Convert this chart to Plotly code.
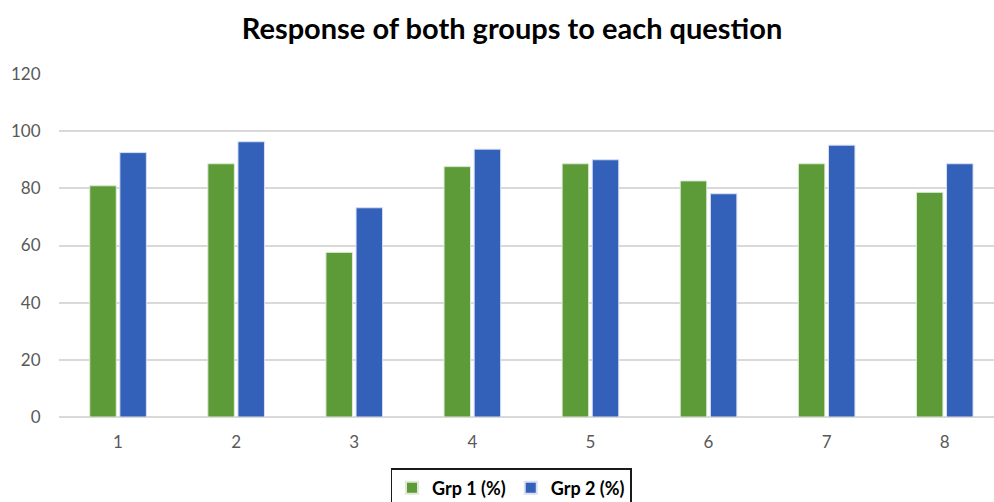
import plotly.graph_objects as go

# Survey results: percentage of each group answering each question
questions = ["1", "2", "3", "4", "5", "6", "7", "8"]
grp1_pct = [80.9, 88.6, 57.6, 87.6, 88.6, 82.6, 88.6, 78.6]
grp2_pct = [92.5, 96.3, 73.2, 93.7, 90.0, 78.1, 95.1, 88.6]
y_ticks = [0, 20, 40, 60, 80, 100, 120]

GREEN = "#5c9b37"
BLUE = "#3360b9"
FONT = "Lato, 'Open Sans', sans-serif"

x_pos = list(range(1, len(questions) + 1))

fig = go.Figure()
fig.add_trace(go.Bar(
    x=x_pos, y=grp1_pct, name="Grp 1 (%)",
    marker=dict(color=GREEN, line=dict(color="#dfe9d6", width=1)),
))
fig.add_trace(go.Bar(
    x=x_pos, y=grp2_pct, name="Grp 2 (%)",
    marker=dict(color=BLUE, line=dict(color="#d8e0f2", width=1)),
))

fig.update_layout(
    width=994, height=502,
    paper_bgcolor="white", plot_bgcolor="white",
    margin=dict(l=59, r=0, t=74, b=85, autoexpand=False),
    barmode="group", bargap=0.49, bargroupgap=0.12,
    title=dict(
        text="<b>Response of both groups to each question</b>",
        x=(512 - 59) / 935, xanchor="center", xref="paper",
        y=1 - 29 / 502, yanchor="middle", yref="container",
        font=dict(family=FONT, size=29, color="#000000"),
    ),
    font=dict(family=FONT, color="#595959"),
    legend=dict(
        orientation="h", x=(511 - 59) / 935, xanchor="center",
        y=-51 / 343, yanchor="top",
        bordercolor="#1a1a1a", borderwidth=1.5,
        font=dict(family=FONT, size=18, color="#000000", weight="bold"),
        itemsizing="constant",
    ),
    showlegend=True,
)

fig.update_xaxes(
    range=[0.5, 0.5 + 935 / 118.1],
    tickmode="array", tickvals=x_pos, ticktext=questions,
    showgrid=False, zeroline=False,
    showline=False,
    ticks="outside", ticklen=10, tickcolor="rgba(0,0,0,0)",
    tickfont=dict(size=17, color="#595959"),
)
fig.update_yaxes(
    range=[0, 120],
    tickmode="array", tickvals=y_ticks,
    showgrid=True, gridcolor="#d9d9d9", gridwidth=1.5,
    zeroline=True, zerolinecolor="#d9d9d9", zerolinewidth=1.5,
    ticks="outside", ticklen=14, tickcolor="rgba(0,0,0,0)",
    tickfont=dict(size=17, color="#595959"),
)

fig.write_html("out.html")
